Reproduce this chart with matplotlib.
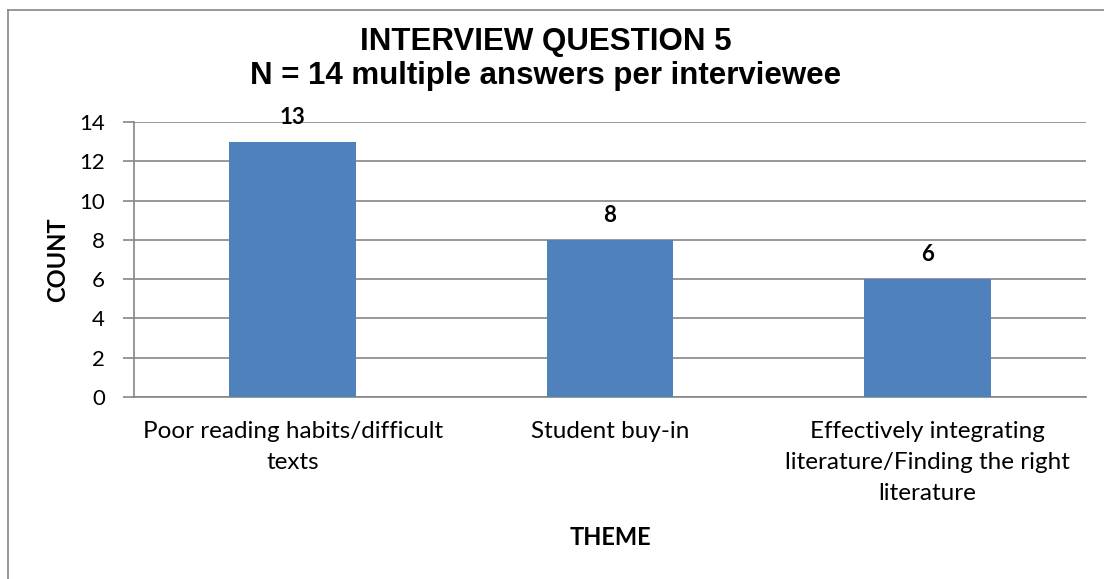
import matplotlib.pyplot as plt
import numpy as np

themes = ['Poor reading habits/difficult\ntexts', 'Student buy-in',
          'Effectively integrating\nliterature/Finding the right\nliterature']
counts = [13, 8, 6]
yticks = [0, 2, 4, 6, 8, 10, 12, 14]
title_lines = ['INTERVIEW QUESTION 5', 'N = 14 multiple answers per interviewee']

W, H = 1104, 579
fig = plt.figure(figsize=(W / 100, H / 100), dpi=100)
ax = fig.add_axes([134 / W, 1 - 397 / H, (1086 - 134) / W, (397 - 122) / H])

# outer chart frame (runs off the right and bottom edges)
fig.add_artist(plt.Line2D([8 / W, 8 / W], [0, 1 - 10 / H], color='#868686', lw=1.2))
fig.add_artist(plt.Line2D([8 / W, 1], [1 - 10 / H, 1 - 10 / H], color='#868686', lw=1.2))

x = np.arange(len(themes))
bars = ax.bar(x, counts, width=0.4, color='#4F81BD', zorder=3)
ax.set_xlim(-0.5, 2.5)
ax.set_ylim(0, 14)
ax.set_yticks(yticks)
ax.yaxis.grid(True, color='#868686', lw=1.2, zorder=0)
ax.set_axisbelow(True)

for s in ['top', 'right']:
    ax.spines[s].set_visible(False)
for s in ['left', 'bottom']:
    ax.spines[s].set_color('#868686')
    ax.spines[s].set_linewidth(1.2)

ax.tick_params(axis='y', length=8, width=1.2, color='#868686', labelsize=16, pad=13)
ax.tick_params(axis='x', length=0, labelsize=17.5, pad=17)
ax.set_xticks(x)
ax.set_xticklabels(themes, fontfamily='Lato', linespacing=1.6)
for lab in ax.get_yticklabels():
    lab.set_fontfamily('Lato')

for b, v in zip(bars, counts):
    ax.annotate(str(v), (b.get_x() + b.get_width() / 2, v), xytext=(0, 13),
                textcoords='offset points', ha='center', va='baseline',
                fontsize=16, fontweight='bold', fontfamily='Lato')

ax.set_ylabel('COUNT', fontsize=17, fontweight='bold', fontfamily='Lato', labelpad=7)
ax.set_xlabel('THEME', fontsize=17, fontweight='bold', fontfamily='Lato', labelpad=16)

fig.text(546 / W, 1 - 50 / H, title_lines[0], ha='center', va='baseline',
         fontsize=22.5, fontweight='bold', fontfamily='Liberation Sans')
fig.text(546 / W, 1 - 84 / H, title_lines[1], ha='center', va='baseline',
         fontsize=22.5, fontweight='bold', fontfamily='Liberation Sans')

fig.savefig('out.png', dpi=100)
